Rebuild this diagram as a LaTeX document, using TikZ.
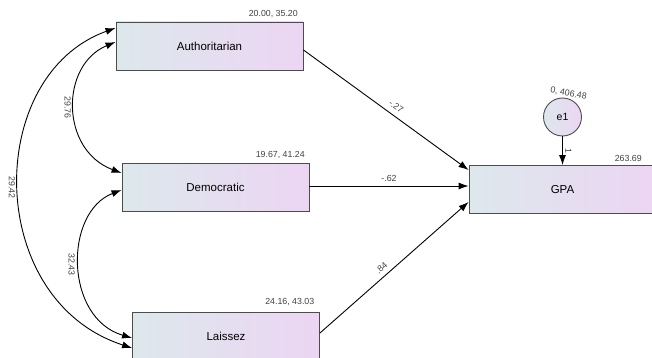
\documentclass[tikz,border=0pt]{standalone}
\usepackage{fontspec}
\setmainfont{Liberation Sans}
\usetikzlibrary{arrows.meta,positioning}
\definecolor{boxleft}{RGB}{221,232,236}
\definecolor{boxright}{RGB}{236,213,243}
\tikzset{
  varbox/.style={draw=black!70, line width=0.9pt, left color=boxleft, right color=boxright,
    minimum width=187pt, minimum height=48pt, font=\fontsize{11.5}{13}\selectfont},
  errnode/.style={circle, draw=black!70, line width=0.9pt, left color=boxleft, right color=boxright,
    minimum size=38pt, inner sep=0pt, font=\fontsize{10.5}{12}\selectfont},
  est/.style={font=\fontsize{8.8}{10}\selectfont, text=black!75, inner sep=0.5pt},
  regarrow/.style={-{Latex[length=10pt,width=7pt]}, line width=0.9pt},
  covarrow/.style={{Latex[length=10pt,width=7pt]}-{Latex[length=10pt,width=7pt]}, line width=0.9pt}
}
\begin{document}
\begin{tikzpicture}[x=1pt,y=-1pt]
  \useasboundingbox (0,0) rectangle (652,358);
  \node[varbox] (auth) at (209.5,46) {Authoritarian};
  \node[varbox] (dem) at (215.5,187.5) {Democratic};
  \node[varbox] (lais) at (226,336) {Laissez};
  \node[varbox] (gpa) at (562.5,189.5) {GPA};
  \node[errnode] (e1) at (562.5,117) {e1};
  % variances
  \node[est, anchor=south east] (authvar) at ([xshift=-5pt,yshift=3pt]auth.north east) {20.00, 35.20};
  \node[est, anchor=south east] (demvar) at ([xshift=-4pt,yshift=4pt]dem.north east) {19.67, 41.24};
  \node[est, anchor=south east] (laisvar) at ([xshift=-5pt,yshift=5pt]lais.north east) {24.16, 43.03};
  \node[est, anchor=south east] (gpavar) at ([xshift=-14pt,yshift=3pt]gpa.north east) {263.69};
  \node[est, rotate=-10] (e1var) at ([xshift=6pt,yshift=4pt]e1.north) {0, 406.48};
  % regression weights
  \draw[regarrow] ([yshift=-4pt]auth.east) -- ([yshift=19.5pt]gpa.west)
    node[est, sloped, pos=0.53, above=5pt] {-.27};
  \draw[regarrow] ([yshift=1.5pt]dem.east) -- ([yshift=3.5pt]gpa.west)
    node[est, pos=0.5, above=3pt] {-.62};
  \draw[regarrow] ([yshift=3pt]lais.east) -- ([yshift=-12.5pt]gpa.west)
    node[est, sloped, pos=0.45, above=4pt] {.84};
  \draw[regarrow] (e1) -- (gpa)
    node[est, pos=0.5, rotate=-90, anchor=south, yshift=2pt] {1};
  % covariances
  \draw[covarrow] ([yshift=4pt]auth.west) .. controls (60,65) and (60,150) .. ([yshift=14.5pt]dem.west)
    node[est, pos=0.5, rotate=-90, anchor=north, yshift=-3pt] {29.76};
  \draw[covarrow] ([yshift=-2.5pt]dem.west) .. controls (64,212) and (64,318) .. ([yshift=-2pt]lais.west)
    node[est, pos=0.5, rotate=-90, anchor=north, yshift=-4pt] {32.43};
  \draw[covarrow] ([yshift=18pt]auth.west) .. controls (-16,75) and (-16,300) .. ([yshift=-12pt]lais.west)
    node[est, pos=0.5, rotate=-90, anchor=north, yshift=-3pt] {29.42};
\end{tikzpicture}
\end{document}
